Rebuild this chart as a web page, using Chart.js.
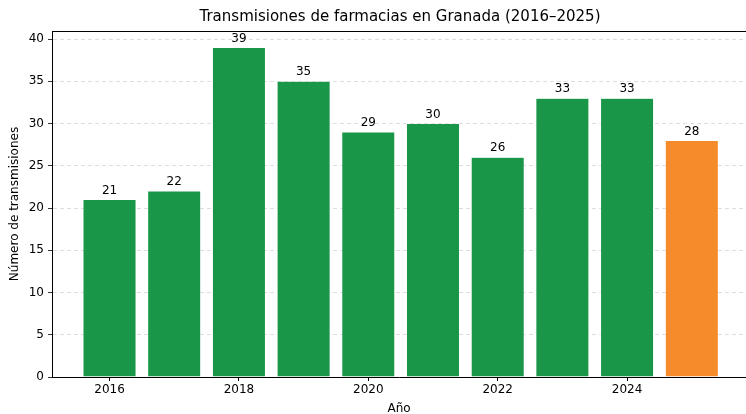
<!DOCTYPE html>
<html>
<head>
<meta charset="utf-8">
<script src="https://cdn.jsdelivr.net/npm/chart.js@4.4.1/dist/chart.umd.min.js"></script>
<style>
  html, body { margin: 0; padding: 0; background: #fff; overflow: hidden; }
  #wrap { width: 746px; height: 414px; }
</style>
</head>
<body>
<div id="wrap"><canvas id="chart" width="746" height="414"></canvas></div>
<script>
const years = [2016, 2017, 2018, 2019, 2020, 2021, 2022, 2023, 2024, 2025];
const transmisiones = [21, 22, 39, 35, 29, 30, 26, 33, 33, 28];
const xTicks = [2016, 2018, 2020, 2022, 2024];
const yTicks = [0, 5, 10, 15, 20, 25, 30, 35, 40];

const FONT = "'DejaVu Sans', sans-serif";
const GREEN = "#1a9648";
const ORANGE = "#f68b2c";

function barColor(year) {
  return year === 2025 ? ORANGE : GREEN;
}

const extras = {
  id: "extras",
  afterDatasetsDraw(chart) {
    const ctx = chart.ctx;
    const meta = chart.getDatasetMeta(0);
    ctx.save();
    ctx.fillStyle = "#000";
    ctx.font = "12px " + FONT;
    ctx.textAlign = "center";
    ctx.textBaseline = "bottom";
    meta.data.forEach((bar, i) => {
      ctx.fillText(String(transmisiones[i]), bar.x, bar.y - 3);
    });
    ctx.restore();
  },
  afterDraw(chart) {
    const ctx = chart.ctx;
    const a = chart.chartArea;
    ctx.save();
    // top spine
    ctx.strokeStyle = "#000";
    ctx.lineWidth = 1;
    ctx.beginPath();
    ctx.moveTo(a.left, a.top + 0.5);
    ctx.lineTo(a.right, a.top + 0.5);
    ctx.stroke();
    // title
    ctx.fillStyle = "#000";
    ctx.font = "15px " + FONT;
    ctx.textAlign = "center";
    ctx.textBaseline = "middle";
    ctx.fillText("Transmisiones de farmacias en Granada (2016–2025)", 400, 17);
    ctx.restore();
  }
};

new Chart(document.getElementById("chart").getContext("2d"), {
  type: "bar",
  data: {
    labels: years,
    datasets: [
      {
        label: "Transmisiones",
        data: years.map((y, i) => ({ x: y, y: transmisiones[i] })),
        backgroundColor: years.map(barColor),
        borderColor: "rgba(255,255,255,0.6)",
        borderWidth: 0.5,
        barPercentage: 0.82,
        categoryPercentage: 1,
      },
    ],
  },
  options: {
    responsive: false,
    animation: false,
    layout: { padding: { top: 31, left: 0, right: 0, bottom: 0 } },
    plugins: {
      legend: { display: false },
      title: { display: false },
      tooltip: { enabled: false },
    },
    scales: {
      x: {
        type: "linear",
        offset: false,
        min: 2015.111,
        max: 2025.838,
        afterFit: (s) => { s.height = 37; },
        afterBuildTicks: (s) => { s.ticks = xTicks.map((v) => ({ value: v })); },
        ticks: {
          color: "#000",
          font: { family: FONT, size: 12 },
          padding: 2,
          maxRotation: 0,
          callback: (v) => String(v),
        },
        grid: {
          offset: false,
          drawOnChartArea: false,
          drawTicks: true,
          tickLength: 4,
          tickColor: "#000",
        },
        border: { display: true, color: "#000", width: 1 },
        title: {
          display: true,
          text: "Año",
          color: "#000",
          font: { family: FONT, size: 12 },
          padding: { top: 0, bottom: -2 },
        },
      },
      y: {
        min: 0,
        max: 40.95,
        afterFit: (s) => { s.width = 52; },
        afterBuildTicks: (s) => { s.ticks = yTicks.map((v) => ({ value: v })); },
        ticks: {
          color: "#000",
          font: { family: FONT, size: 12 },
          padding: 4,
        },
        grid: {
          color: "#d6d6d6",
          tickBorderDash: [],
          tickColor: "#000",
          tickLength: 4,
          lineWidth: 0.8,
        },
        border: { display: true, color: "#000", width: 1, dash: [4, 3] },
        title: {
          display: true,
          text: "Número de transmisiones",
          color: "#000",
          font: { family: FONT, size: 12 },
          padding: { top: 8, bottom: 0 },
        },
      },
    },
  },
  plugins: [extras],
});
</script>
</body>
</html>
